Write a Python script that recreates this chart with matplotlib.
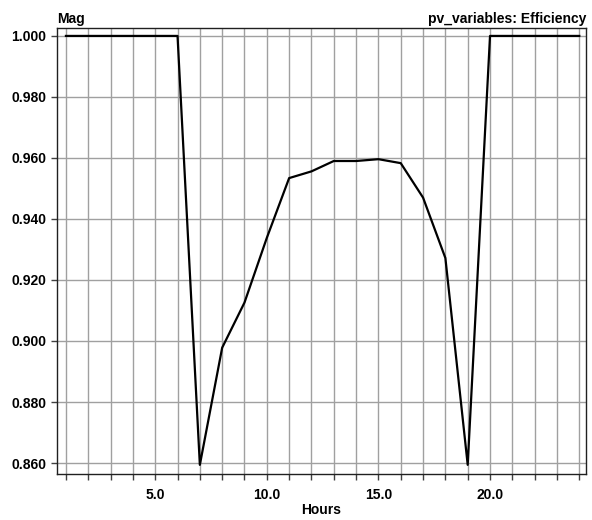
import numpy as np
import matplotlib
matplotlib.use("Agg")
import matplotlib.pyplot as plt
from matplotlib.ticker import MultipleLocator, FormatStrFormatter

# hourly efficiency
hours = list(range(1, 25))
efficiency = [1.0, 1.0, 1.0, 1.0, 1.0, 1.0,
              0.8594, 0.8978, 0.9126, 0.9338, 0.9534, 0.9556,
              0.9590, 0.9590, 0.9596, 0.9583, 0.9470, 0.9272,
              0.8594, 1.0, 1.0, 1.0, 1.0, 1.0]

plt.rcParams["font.family"] = ["Liberation Sans", "DejaVu Sans"]
plt.rcParams["font.weight"] = "bold"

fig = plt.figure(figsize=(5.92, 5.2), dpi=100)
ax = fig.add_axes([57 / 592, 1 - 474 / 520, 529 / 592, 446 / 520])

ax.plot(hours, efficiency, color="black", linewidth=1.6, zorder=3)

ax.set_xlim(0.6, 24.3)
ax.set_ylim(0.8564, 1.0026)

ax.xaxis.set_major_locator(MultipleLocator(5))
ax.xaxis.set_minor_locator(MultipleLocator(1))
ax.xaxis.set_major_formatter(FormatStrFormatter("%.1f"))
ax.yaxis.set_major_locator(MultipleLocator(0.02))
ax.yaxis.set_major_formatter(FormatStrFormatter("%.3f"))

ax.grid(True, which="both", axis="x", color="#a0a0a0", linewidth=1.0)
ax.grid(True, which="major", axis="y", color="#a0a0a0", linewidth=1.0)
ax.set_axisbelow(True)

ax.tick_params(axis="both", which="both", direction="out", length=4,
               width=1, color="#404040", labelsize=10)
ax.tick_params(axis="x", which="major", pad=6)
for sp in ax.spines.values():
    sp.set_color("#202020")
    sp.set_linewidth(1.0)

ax.set_xlabel("Hours", fontsize=10, fontweight="bold", labelpad=1)
ax.text(0, 1.005, "Mag", transform=ax.transAxes, ha="left", va="bottom",
        fontsize=10, fontweight="bold")
ax.text(1, 1.005, "pv_variables: Efficiency", transform=ax.transAxes,
        ha="right", va="bottom", fontsize=10, fontweight="bold")

fig.savefig("out.png", dpi=100)
plt.close(fig)
